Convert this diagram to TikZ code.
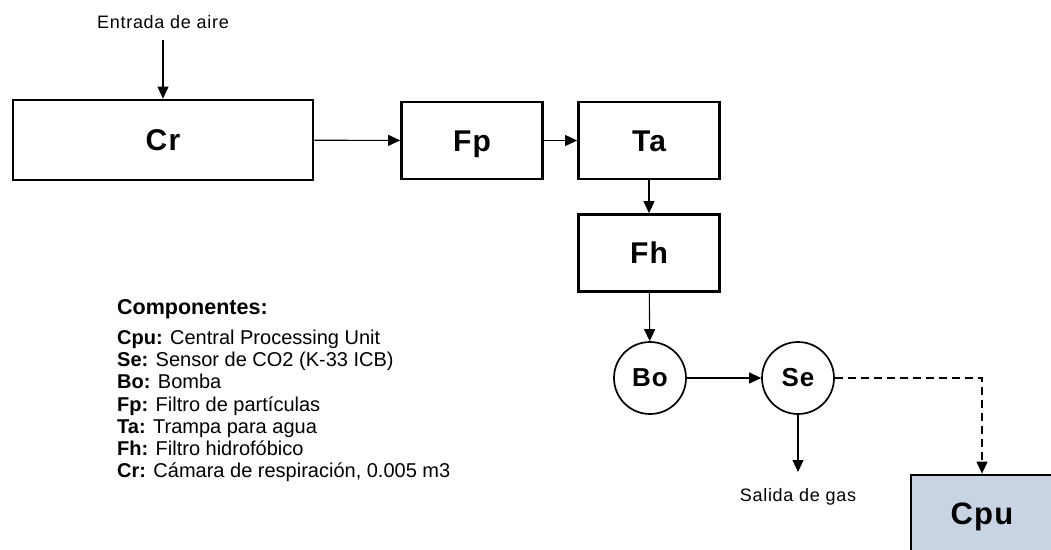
\documentclass[tikz,border=0pt]{standalone}
\usepackage{fontspec}
\setmainfont{Liberation Sans}
\newfontfamily\spacedfont[LetterSpace=4]{Liberation Sans}
\usetikzlibrary{arrows.meta,positioning,calc}
\definecolor{cpublue}{HTML}{C8D4E4}
\tikzset{
  block/.style={rectangle,draw,line width=2.8pt,minimum width=141pt,minimum height=77pt,
    text height=21pt,text depth=0pt,inner sep=0pt,
    font=\spacedfont\bfseries\fontsize{30}{36}\selectfont},
  unit/.style={circle,draw,line width=1.7pt,minimum size=72pt,inner sep=0pt,
    font=\spacedfont\bfseries\fontsize{26}{31}\selectfont},
  flowlabel/.style={font=\spacedfont\fontsize{18}{21}\selectfont},
  every edge/.style={draw,line width=1.1pt,-{Triangle[length=12pt,width=11pt]}}
}

\begin{document}
\begin{tikzpicture}[x=1pt,y=-1pt]
  \useasboundingbox (0,0) rectangle (1051,549);

  \node[block,minimum width=300pt,minimum height=80pt] (cr) at (163,140) {Cr};
  \node[block] (fp) at (472,140.5) {Fp};
  \node[block] (ta) at (649,140.5) {Ta};
  \node[block] (fh) at (649,253) {Fh};
  \node[unit] (bo) at (650,378) {Bo};
  \node[unit] (se) at (798,378) {Se};
  \node[block,fill=cpublue,minimum width=142pt,text height=22pt,
    font=\spacedfont\bfseries\fontsize{31}{37}\selectfont] (cpu) at (982,513.5) {Cpu};

  \node[flowlabel] (entrada) at (163,22) {Entrada de aire};
  \coordinate (airin) at (163,40);
  \coordinate (gasout) at (798,472);
  \node[flowlabel] (salida) at (798,497) {Salida de gas};

  \path
    (airin) edge (cr)
    (cr) edge (fp)
    (fp) edge (ta)
    (ta) edge (fh)
    (fh) edge (bo)
    (bo) edge (se)
    (se) edge (gasout);
  \draw[line width=1.1pt,dash pattern=on 8pt off 5pt,-{Triangle[length=12pt,width=11pt]}]
    (se) -| (cpu);

  % leyenda
  \node[anchor=west,inner sep=0pt,font=\bfseries\fontsize{21.5}{26}\selectfont]
    (titulo) at (117,309) {Componentes:};
  \node[anchor=west,inner sep=0pt,align=left,font=\fontsize{20}{22.2}\selectfont]
    (lista) at (117,406) {\textbf{Cpu:} Central Processing Unit\\
      \textbf{Se:} Sensor de CO2 (K-33 ICB)\\
      \textbf{Bo:} Bomba\\
      \textbf{Fp:} Filtro de partículas\\
      \textbf{Ta:} Trampa para agua\\
      \textbf{Fh:} Filtro hidrofóbico\\
      \textbf{Cr:} Cámara de respiración, 0.005 m3};
\end{tikzpicture}
\end{document}
